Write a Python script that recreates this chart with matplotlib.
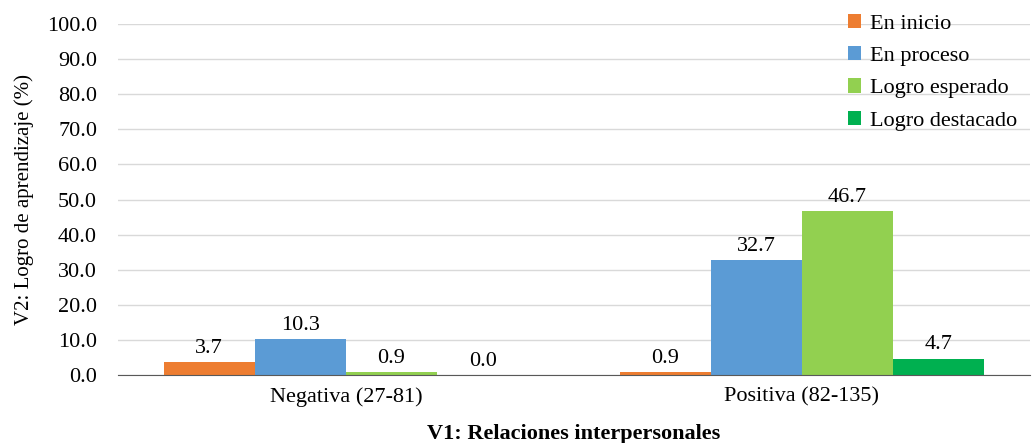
import matplotlib.pyplot as plt
import numpy as np

plt.rcParams['font.family'] = ['Liberation Serif', 'DejaVu Serif']

# datos
categorias = ['Negativa (27-81)', 'Positiva (82-135)']
niveles = ['En inicio', 'En proceso', 'Logro esperado', 'Logro destacado']
en_inicio = [3.7, 0.9]
en_proceso = [10.3, 32.7]
logro_esperado = [0.9, 46.7]
logro_destacado = [0.0, 4.7]
colores = ['#ED7D31', '#5B9BD5', '#92D050', '#00B050']

series = [en_inicio, en_proceso, logro_esperado, logro_destacado]

fig = plt.figure(figsize=(10.32, 4.43), dpi=100)
ax = fig.add_axes([0.1143, 0.1535, 0.8837, 0.7923])

x = np.arange(len(categorias))
w = 0.2
for i, (vals, nombre, col) in enumerate(zip(series, niveles, colores)):
  pos = x + (i - 1.5) * w
  bars = ax.bar(pos, vals, w, color=col, label=nombre, zorder=2)
  for b, v in zip(bars, vals):
    ax.annotate('%.1f' % v, (b.get_x() + b.get_width() / 2, v),
                xytext=(0, 3), textcoords='offset points',
                ha='center', va='bottom', fontsize=16)

ax.set_xlim(-0.5, 1.5)
ax.set_ylim(0, 100)
ax.set_yticks(np.arange(0, 101, 10))
ax.set_yticklabels(['%.1f' % t for t in np.arange(0, 101, 10)], fontsize=16)
ax.set_xticks(x)
ax.set_xticklabels(categorias, fontsize=16)
ax.tick_params(axis='y', length=0, pad=15)
ax.tick_params(axis='x', length=0, pad=9)
ax.yaxis.grid(True, color='#D9D9D9', linewidth=1, zorder=0)
ax.set_axisbelow(True)
for s in ['top', 'right', 'left']:
  ax.spines[s].set_visible(False)
ax.spines['bottom'].set_color('#595959')

ax.set_ylabel('V2: Logro de aprendizaje (%)', fontsize=15, labelpad=9)
ax.set_xlabel('V1: Relaciones interpersonales', fontsize=16, fontweight='bold', labelpad=12)

leg = ax.legend(loc='upper right', bbox_to_anchor=(1.008, 1.086), frameon=False,
                fontsize=16, handlelength=0.6, handleheight=0.6, handletextpad=0.4,
                labelspacing=0.56)

plt.savefig('out.png', dpi=100)
